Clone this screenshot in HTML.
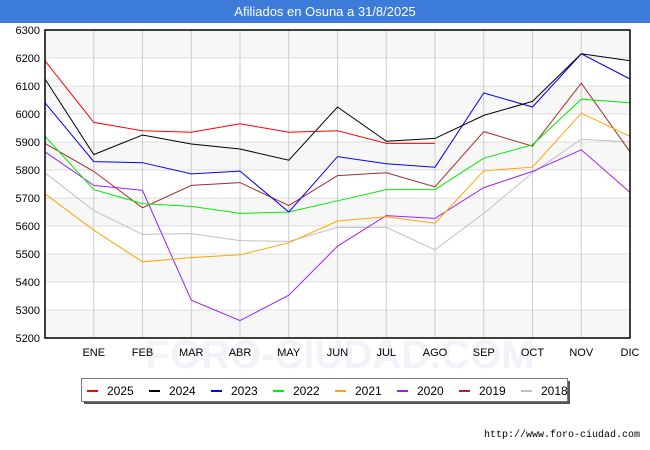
<!DOCTYPE html>
<html><head><meta charset="utf-8">
<style>
body{margin:0;width:650px;height:450px;background:#fff;font-family:"Liberation Sans","DejaVu Sans",sans-serif;overflow:hidden;position:relative}
#title{position:absolute;left:0;top:0;width:650px;height:23px;background:#3d7bd9;color:#fff;font-size:13px;text-align:center;line-height:23px}
svg{position:absolute;left:0;top:0}
</style></head><body>
<div id="title">Afiliados en Osuna a 31/8/2025</div>
<svg id="chart" width="650" height="450"></svg>
<script>
const months=["","ENE","FEB","MAR","ABR","MAY","JUN","JUL","AGO","SEP","OCT","NOV","DIC"];
const yTicks=[5200,5300,5400,5500,5600,5700,5800,5900,6000,6100,6200,6300];
const seriesNames=["2025","2024","2023","2022","2021","2020","2019","2018"];
const colors=["#ff0000","#000000","#0000ff","#00ee00","#ffa500","#a020f0","#a52a2a","#c0c0c0"];
const s2025=[6190,5970,5940,5935,5965,5935,5940,5895,5895];
const s2024=[6125,5855,5925,5893,5875,5835,6025,5903,5913,5995,6045,6215,6190];
const s2023=[6040,5830,5826,5786,5796,5650,5848,5822,5810,6075,6025,6215,6125];
const s2022=[5920,5730,5680,5670,5645,5650,5690,5730,5730,5842,5890,6053,6040];
const s2021=[5715,5585,5472,5487,5497,5540,5618,5633,5610,5797,5810,6003,5920];
const s2020=[5865,5745,5727,5335,5262,5353,5528,5637,5627,5737,5795,5872,5720];
const s2019=[5895,5795,5665,5745,5755,5673,5780,5790,5740,5937,5885,6110,5865];
const s2018=[5790,5655,5570,5573,5548,5545,5595,5595,5515,5645,5790,5910,5900];
const allSeries=[s2025,s2024,s2023,s2022,s2021,s2020,s2019,s2018];
const L=45,R=630,T=30,B=338,yMin=5200,yMax=6300;
const xs=i=>L+i*(R-L)/12;
const ys=v=>B-(v-yMin)/(yMax-yMin)*(B-T);
const svg=document.getElementById('chart');
const NS="http://www.w3.org/2000/svg";
function mk(tag,attrs,parent){const e=document.createElementNS(NS,tag);for(const k in attrs)e.setAttribute(k,attrs[k]);(parent||svg).appendChild(e);return e;}
for(let i=0;i<yTicks.length-1;i++){
  if(i%2===0){const b=mk('rect',{x:L,y:ys(yTicks[i+1]),width:R-L,height:ys(yTicks[i])-ys(yTicks[i+1]),fill:'#f7f7f7'});
  
  }
}
const wm=mk('text',{x:340,y:368,'font-size':40,fill:'#f1f3f8','text-anchor':'middle','font-weight':'bold'});
wm.textContent='FORO-CIUDAD.COM';


yTicks.forEach(v=>{
  const g=mk('line',{x1:L,x2:R,y1:ys(v),y2:ys(v),stroke:'#dddddd','stroke-width':1});
  
  
  const t=mk('text',{x:L-5,y:ys(v)+4,'font-size':11,'text-anchor':'end',fill:'#000'});
  t.textContent=v;
  
  
});
months.forEach((m,i)=>{
  if(i===0)return;
  const g=mk('line',{x1:xs(i),x2:xs(i),y1:T,y2:B,stroke:'#cccccc','stroke-width':1});
  
  
  const t=mk('text',{x:xs(i),y:356,'font-size':11,'text-anchor':'middle',fill:'#000'});
  t.textContent=m;
  
  
});
for(let k=allSeries.length-1;k>=0;k--){
  const pts=allSeries[k].map((v,i)=>xs(i).toFixed(1)+','+ys(v).toFixed(1)).join(' ');
  const p=mk('polyline',{points:pts,fill:'none',stroke:colors[k],'stroke-width':1});
  
  
}
const fr=mk('rect',{x:L,y:T,width:R-L,height:B-T,fill:'none',stroke:'#000','stroke-width':1.5});


const sh=mk('rect',{x:84,y:381,width:486,height:23,fill:'#555'});


const lg=mk('rect',{x:81.5,y:378.5,width:486,height:23,fill:'#fff',stroke:'#777'});


seriesNames.forEach((n,k)=>{
  const x0=87+k*62;
  const l=mk('line',{x1:x0,x2:x0+11,y1:391,y2:391,stroke:colors[k],'stroke-width':2});
  
  
  const t=mk('text',{x:x0+20,y:395,'font-size':12,fill:'#000'});
  t.textContent=n;
  
  
});
const u=mk('text',{x:640,y:437,'font-size':10,'text-anchor':'end',fill:'#000','font-family':'Liberation Mono, monospace'});
u.textContent='http://www.foro-ciudad.com';


</script>
</body></html>
